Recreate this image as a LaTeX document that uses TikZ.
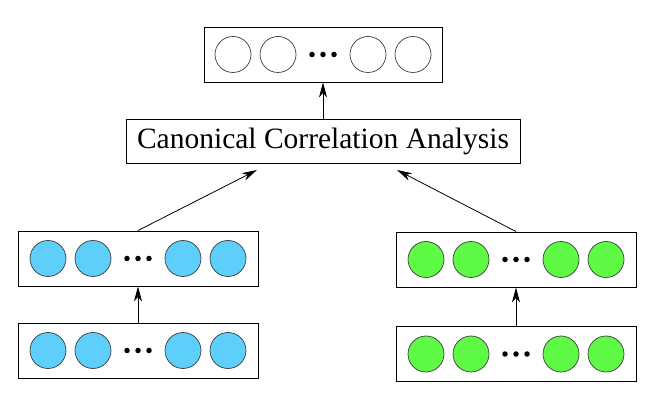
\documentclass[tikz,border=0pt]{standalone}
\usepackage{fontspec}
\setmainfont{Liberation Serif}
\usetikzlibrary{arrows.meta}
\definecolor{cblue}{RGB}{94,206,250}
\definecolor{cgreen}{RGB}{94,250,70}
\definecolor{cedge}{RGB}{60,60,60}
\tikzset{
  rowbox/.style={draw, line width=0.9pt, minimum width=240pt, minimum height=55pt, inner sep=0pt},
  unit/.style={circle, draw=cedge, line width=0.7pt, minimum size=36pt, inner sep=0pt},
  dotn/.style={circle, fill=black, minimum size=5.5pt, inner sep=0pt},
  arr/.style={-{Stealth[length=15pt,width=8pt,inset=4.5pt]}, line width=0.8pt},
}
\begin{document}
\begin{tikzpicture}[x=1pt,y=-1pt]
\useasboundingbox (0,0) rectangle (657,406);
\node[rowbox, minimum width=238pt] (top) at (323,54.5) {};
\node[draw, line width=0.9pt, minimum width=394pt, minimum height=44pt, inner sep=0pt, font=\fontsize{29.5}{32}\selectfont] (cca) at (323,141) {Canonical Correlation Analysis};
\node[rowbox] (lu) at (138,258.5) {};
\node[rowbox] (ll) at (138,350.5) {};
\node[rowbox] (ru) at (516,259.5) {};
\node[rowbox] (rl) at (516,354) {};
\foreach \b/\c in {top/white, lu/cblue, ll/cblue, ru/cgreen, rl/cgreen}{
  \foreach \dx [count=\i] in {-90,-45,45,90}
    \node[unit, fill=\c] (\b-c\i) at ([xshift=\dx pt]\b.center) {};
  \foreach \dx [count=\i] in {-11,0,11}
    \node[dotn] (\b-d\i) at ([xshift=\dx pt]\b.center) {};
}
\coordinate (la) at (257,170);
\coordinate (ra) at (397,170);
\draw[arr] (cca.north) -- (top.south);
\draw[arr] (lu.north) -- (la);
\draw[arr] (ru.north) -- (ra);
\draw[arr] (ll.north) -- (lu.south);
\draw[arr] (rl.north) -- (ru.south);
\end{tikzpicture}
\end{document}
